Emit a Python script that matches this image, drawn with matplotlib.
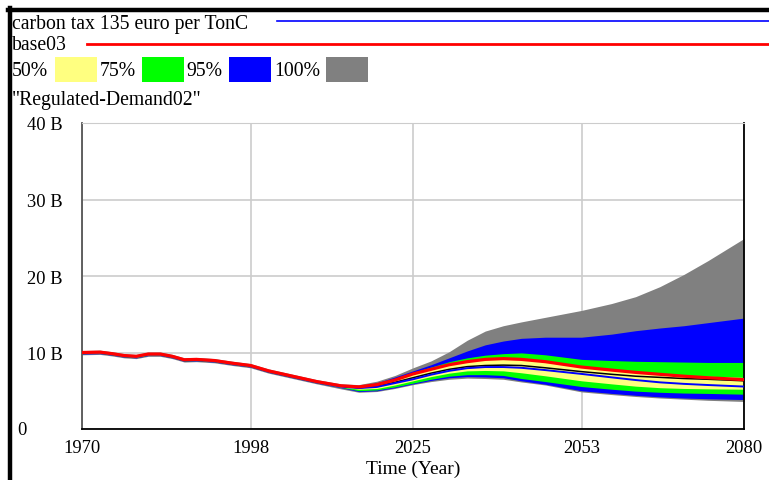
import matplotlib
matplotlib.use("Agg")
import matplotlib.pyplot as plt
from matplotlib.patches import Rectangle
from matplotlib.lines import Line2D

plt.rcParams['font.family'] = ['Liberation Serif', 'DejaVu Serif']

# ---------------- data (values in billions) ----------------
years = [1970, 1973, 1975, 1977, 1979, 1981, 1983, 1985, 1987, 1989, 1992, 1995, 1998,
         2001, 2005, 2009, 2013,
         2016, 2019, 2022, 2025, 2028, 2031, 2034, 2037, 2040, 2043, 2047, 2053,
         2058, 2062, 2066, 2070, 2074, 2080]

base03 = [10.0, 10.05, 9.85, 9.6, 9.5, 9.8, 9.8, 9.5, 9.05, 9.1, 8.95, 8.6, 8.3,
          7.6, 6.9, 6.2, 5.65,
          5.5, 5.8, 6.4, 7.2, 7.8, 8.4, 8.8, 9.1, 9.2, 9.1, 8.8, 8.1,
          7.7, 7.4, 7.15, 6.9, 6.7, 6.45]

carbon_tax = [9.97, 10.0, 9.8, 9.55, 9.45, 9.75, 9.75, 9.45, 9.0, 9.05, 8.9, 8.55, 8.25,
              7.55, 6.85, 6.15, 5.55,
              5.35, 5.5, 6.0, 6.5, 7.1, 7.6, 7.95, 8.1, 8.1, 8.0, 7.7, 7.2,
              6.75, 6.4, 6.1, 5.9, 5.75, 5.55]

current = [10.0, 10.05, 9.85, 9.6, 9.5, 9.8, 9.8, 9.5, 9.05, 9.1, 8.95, 8.6, 8.3,
           7.6, 6.9, 6.2, 5.6,
           5.4, 5.6, 6.1, 6.7, 7.3, 7.8, 8.15, 8.3, 8.35, 8.3, 8.0, 7.5,
           7.15, 6.9, 6.75, 6.6, 6.5, 6.3]

b100_hi = [10.25, 10.3, 10.1, 9.85, 9.75, 10.05, 10.05, 9.75, 9.3, 9.35, 9.2, 8.85, 8.55,
           7.85, 7.15, 6.45, 5.9,
           5.8, 6.25, 7.0, 8.0, 8.9, 10.1, 11.6, 12.8, 13.5, 14.0, 14.6, 15.5,
           16.4, 17.3, 18.6, 20.2, 22.0, 24.9]
b100_lo = [9.7, 9.75, 9.55, 9.3, 9.2, 9.5, 9.5, 9.2, 8.75, 8.8, 8.65, 8.3, 8.0,
           7.3, 6.6, 5.9, 5.25,
           4.8, 4.9, 5.3, 5.8, 6.2, 6.5, 6.65, 6.6, 6.5, 6.15, 5.75, 4.85,
           4.5, 4.25, 4.05, 3.9, 3.75, 3.6]

b95_hi = [10.12, 10.17, 9.97, 9.72, 9.62, 9.92, 9.92, 9.62, 9.17, 9.22, 9.07, 8.72, 8.42,
          7.72, 7.02, 6.32, 5.77,
          5.65, 6.05, 6.8, 7.6, 8.4, 9.3, 10.2, 11.0, 11.5, 11.85, 12.0, 12.0,
          12.4, 12.85, 13.2, 13.5, 13.9, 14.5]
b95_lo = [9.8, 9.85, 9.65, 9.4, 9.3, 9.6, 9.6, 9.3, 8.85, 8.9, 8.75, 8.4, 8.1,
          7.4, 6.7, 6.0, 5.4,
          4.9, 5.0, 5.4, 5.9, 6.35, 6.7, 6.85, 6.8, 6.7, 6.3, 5.85, 5.0,
          4.65, 4.4, 4.2, 4.05, 3.95, 3.85]

b75_hi = [10.08, 10.13, 9.93, 9.68, 9.58, 9.88, 9.88, 9.58, 9.13, 9.18, 9.03, 8.68, 8.38,
          7.68, 6.98, 6.28, 5.72,
          5.6, 5.95, 6.6, 7.4, 8.1, 8.8, 9.3, 9.65, 9.85, 9.95, 9.7, 9.1,
          8.95, 8.85, 8.8, 8.75, 8.7, 8.7]
b75_lo = [9.85, 9.9, 9.7, 9.45, 9.35, 9.65, 9.65, 9.35, 8.9, 8.95, 8.8, 8.45, 8.15,
          7.45, 6.75, 6.05, 5.45,
          5.0, 5.1, 5.5, 6.0, 6.5, 6.9, 7.1, 7.1, 7.0, 6.6, 6.2, 5.55,
          5.2, 4.95, 4.8, 4.7, 4.65, 4.55]

b50_hi = [10.04, 10.09, 9.89, 9.64, 9.54, 9.84, 9.84, 9.54, 9.09, 9.14, 8.99, 8.64, 8.34,
          7.64, 6.94, 6.24, 5.68,
          5.55, 5.85, 6.45, 7.2, 7.85, 8.45, 8.85, 9.1, 9.2, 9.1, 8.75, 8.2,
          7.75, 7.45, 7.2, 7.0, 6.9, 6.75]
b50_lo = [9.9, 9.95, 9.75, 9.5, 9.4, 9.7, 9.7, 9.4, 8.95, 9.0, 8.85, 8.5, 8.2,
          7.5, 6.8, 6.1, 5.5,
          5.2, 5.3, 5.75, 6.3, 6.85, 7.3, 7.6, 7.65, 7.6, 7.35, 6.95, 6.3,
          5.9, 5.6, 5.4, 5.3, 5.25, 5.2]

x_ticks = [1970, 1998, 2025, 2053, 2080]
y_ticks = [10, 20, 30, 40]
y_labels = ["10 B", "20 B", "30 B", "40 B"]
y_zero_label = "0"

band_labels = ["50%", "75%", "95%", "100%"]
band_colors = ["#ffff80", "#00ff00", "#0000ff", "#808080"]

# ---------------- figure ----------------
W, H = 769, 481
fig = plt.figure(figsize=(W / 100, H / 100), dpi=100)

def fx(px):
    return px / W

def fy(py):
    return 1 - py / H

ax = fig.add_axes([fx(82), fy(430), fx(744) - fx(82), fy(124) - fy(430)])

bands = [(b100_lo, b100_hi, band_colors[3]),
         (b95_lo, b95_hi, band_colors[2]),
         (b75_lo, b75_hi, band_colors[1]),
         (b50_lo, b50_hi, band_colors[0])]
for lo, hi, c in bands:
    ax.fill_between(years, lo, hi, color=c, linewidth=0, zorder=2)

ax.plot(years, current, color="black", lw=1.1, zorder=3)
ax.plot(years, carbon_tax, color="#0000ff", lw=1.4, zorder=4)
ax.plot(years, base03, color="#ff0000", lw=2.3, zorder=5)

ax.set_xlim(1970, 2080)
ax.set_ylim(0, 40)
ax.set_xticks(x_ticks)
ax.set_xticklabels([str(t) for t in x_ticks])
ax.set_yticks([0] + y_ticks)
ax.set_yticklabels([""] + y_labels)
ax.tick_params(length=0, labelsize=13.3, colors="black")
ax.tick_params(axis="x", pad=7)
ax.tick_params(axis="y", pad=14)
ax.grid(True, color="#cccccc", lw=1.2, zorder=0)
ax.set_axisbelow(True)
ax.spines["top"].set_color("#cccccc")
ax.spines["left"].set_color("#555555")
ax.spines["left"].set_linewidth(1.3)
ax.spines["bottom"].set_color("black")
ax.spines["bottom"].set_linewidth(1.3)
ax.spines["right"].set_color("black")
ax.spines["right"].set_linewidth(1.3)
ax.set_xlabel("Time (Year)", fontsize=14, labelpad=3)

fig.text(fx(21.5), fy(431), y_zero_label, fontsize=13.3, ha="center", va="center")

# ---------------- frame lines ----------------
fig.add_artist(Line2D([fx(8), 1.0], [fy(10.5), fy(10.5)], color="black", lw=3.2))
fig.add_artist(Line2D([fx(10), fx(10)], [fy(9), 0.0], color="black", lw=3.2))

# ---------------- legend ----------------
fs = 14.2
fig.text(fx(12), fy(24), "carbon tax 135 euro per TonC", fontsize=fs, va="center", ha="left")
fig.add_artist(Line2D([fx(277), 1.0], [fy(22), fy(22)], color="#0000ff", lw=1.2))
fig.text(fx(12), fy(46), "base03", fontsize=fs, va="center", ha="left")
fig.add_artist(Line2D([fx(87), 1.0], [fy(45), fy(45)], color="#ff0000", lw=2.0))

text_x = [12, 100, 186, 274]
patch_x = [55, 142, 229, 326]
for lab, tx, px, c in zip(band_labels, text_x, patch_x, band_colors):
    fig.text(fx(tx), fy(72), lab, fontsize=fs, va="center", ha="left")
    fig.add_artist(Rectangle((fx(px), fy(83)), fx(42), fy(58) - fy(83),
                             facecolor=c, edgecolor="none"))

fig.text(fx(12), fy(101), '"Regulated-Demand02"', fontsize=fs, va="center", ha="left")

fig.savefig("out.png", dpi=100)
